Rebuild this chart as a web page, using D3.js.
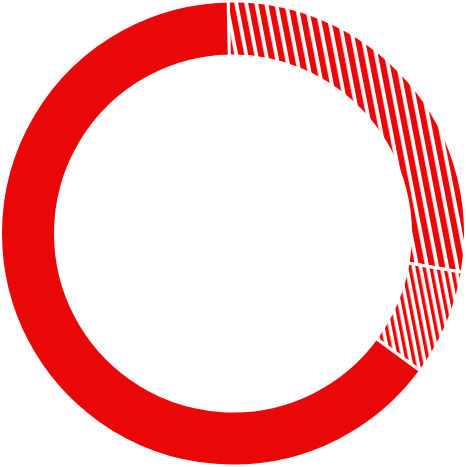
<!DOCTYPE html>
<html>
<head>
<meta charset="utf-8">
<script src="https://cdn.jsdelivr.net/npm/d3@7"></script>
<style>
  html, body { margin: 0; padding: 0; background: #fff; }
</style>
</head>
<body>
<div id="chart"></div>
<script>
// Slice shares, clockwise from the top
const segments = ["A", "B", "C"];
const shares = [28.0, 7.4, 64.6];
const fills = ["url(#hatch-wide)", "url(#hatch-narrow)", "#ea0707"];

const width = 466;
const height = 467;
const red = "#ea0707";

const svg = d3.select("#chart")
  .append("svg")
  .attr("width", width)
  .attr("height", height);

// diagonal stripe patterns for the hatched slices
const defs = svg.append("defs");
[["hatch-wide", 9.8, 6.1], ["hatch-narrow", 6.9, 3.4]].forEach(([id, step, band]) => {
  const p = defs.append("pattern")
    .attr("id", id)
    .attr("patternUnits", "userSpaceOnUse")
    .attr("width", step)
    .attr("height", step)
    .attr("patternTransform", "rotate(-11)");
  p.append("rect").attr("width", step).attr("height", step).attr("fill", "#fff");
  p.append("rect").attr("width", band).attr("height", step).attr("fill", red);
});

const g = svg.append("g")
  .attr("transform", "translate(233,233.5)");

const offset = -0.021;  // chart is turned a touch anticlockwise
const pie = d3.pie()
  .sort(null)
  .startAngle(offset)
  .endAngle(2 * Math.PI + offset);

const arc = d3.arc()
  .innerRadius(177.5)
  .outerRadius(232.5);

g.selectAll("path")
  .data(pie(shares))
  .join("path")
  .attr("d", arc)
  .attr("fill", (d, i) => fills[i])
  .attr("stroke", "#fff")
  .attr("stroke-width", 3)
  .attr("stroke-linejoin", "miter");
</script>
</body>
</html>
